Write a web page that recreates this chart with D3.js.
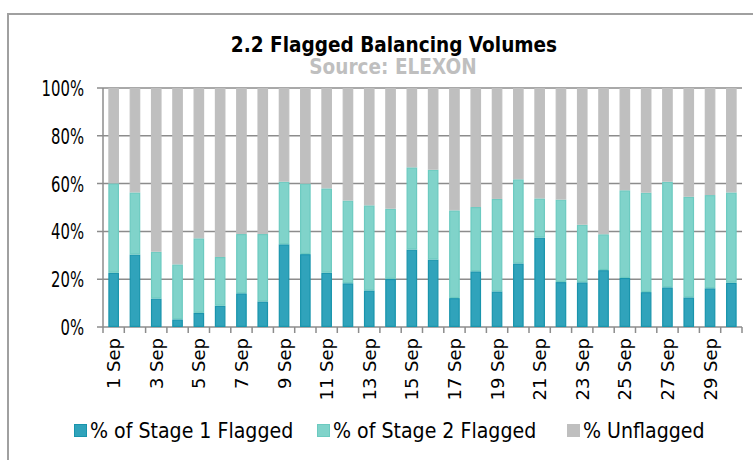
<!DOCTYPE html>
<html>
<head>
<meta charset="utf-8">
<script src="https://cdn.jsdelivr.net/npm/d3@7"></script>
<style>
  body { margin: 0; background: #fff; }
  svg { display: block; font-family: "DejaVu Sans", Verdana, sans-serif; }
</style>
</head>
<body>
<script>
const days = d3.range(1, 31).map(d => d + ' Sep');

// % of Stage 1 Flagged
const stage1 = [22.7, 30.3, 11.9, 3.2, 5.9, 8.9, 14.1, 10.7, 34.6, 30.5,
  22.7, 18.3, 15.3, 20.1, 32.4, 28.2, 12.1, 23.3, 14.9, 26.6,
  37.4, 18.8, 18.7, 23.8, 20.5, 14.6, 16.6, 12.4, 16.2, 18.5];

// % of Stage 2 Flagged
const stage2 = [37.4, 26.0, 19.6, 23.0, 31.2, 20.4, 24.8, 28.2, 26.2, 29.5,
  35.3, 34.6, 35.6, 29.4, 34.4, 37.6, 36.7, 26.9, 38.7, 35.2,
  16.4, 34.5, 24.1, 15.0, 36.7, 41.6, 44.2, 42.1, 39.0, 37.8];

// % Unflagged
const unflagged = stage1.map((d, i) => +(100 - d - stage2[i]).toFixed(1));

const yTicks = [0, 20, 40, 60, 80, 100];

const seriesNames = ['% of Stage 1 Flagged', '% of Stage 2 Flagged', '% Unflagged'];
const fills = ['#30a3bb', '#80d3ca', '#bfbfbf'];
const strokes = ['#1994ac', '#6ccac0', '#bfbfbf'];

const width = 753, height = 460;
const svg = d3.select('body').append('svg')
  .attr('width', width)
  .attr('height', height);

// outer frame
svg.append('rect')
  .attr('x', 8).attr('y', 14)
  .attr('width', 800).attr('height', 500)
  .attr('fill', 'none')
  .attr('stroke', '#a0a0a0')
  .attr('stroke-width', 2);

svg.append('text')
  .attr('transform', 'translate(394,52) scale(1,1.18)')
  .attr('text-anchor', 'middle')
  .attr('font-weight', 'bold')
  .attr('font-size', 18.5)
  .attr('fill', '#000')
  .text('2.2 Flagged Balancing Volumes');

svg.append('text')
  .attr('transform', 'translate(393,74) scale(1,1.12)')
  .attr('text-anchor', 'middle')
  .attr('font-weight', 'bold')
  .attr('font-size', 18.5)
  .attr('fill', '#bfbfbf')
  .text('Source: ELEXON');

const x = d3.scaleBand()
  .domain(days)
  .range([103, 742])
  .paddingInner(0.5)
  .paddingOuter(0.25);

const y = d3.scaleLinear()
  .domain([0, 100])
  .range([327, 88]);

// gridlines
svg.append('g')
  .selectAll('line')
  .data(yTicks)
  .join('line')
  .attr('x1', 97).attr('x2', 742)
  .attr('y1', d => y(d)).attr('y2', d => y(d))
  .attr('stroke', '#8c8c8c')
  .attr('stroke-width', 1.5);

// y labels
svg.append('g')
  .selectAll('text')
  .data(yTicks)
  .join('text')
  .attr('transform', d => `translate(84,${y(d) + 8}) scale(1,1.3)`)
  .attr('text-anchor', 'end')
  .attr('font-family', '"DejaVu Sans Condensed", "DejaVu Sans", sans-serif')
  .attr('font-size', 16.5)
  .attr('fill', '#000')
  .text(d => d + '%');

// y axis line
svg.append('line')
  .attr('x1', 103).attr('x2', 103)
  .attr('y1', y(100)).attr('y2', y(0))
  .attr('stroke', '#8c8c8c')
  .attr('stroke-width', 1.5);

// stacked bars
const rows = days.map((d, i) => ({ day: d, s1: stage1[i], s2: stage2[i], un: unflagged[i] }));
const stack = d3.stack().keys(['s1', 's2', 'un'])(rows);

svg.append('g')
  .selectAll('g')
  .data(stack)
  .join('g')
  .attr('fill', (d, i) => fills[i])
  .attr('stroke', (d, i) => strokes[i])
  .attr('stroke-width', 1.2)
  .selectAll('rect')
  .data(d => d)
  .join('rect')
  .attr('x', d => x(d.data.day) + 0.6)
  .attr('width', x.bandwidth() - 1.2)
  .attr('y', d => y(d[1]) + 0.6)
  .attr('height', d => Math.max(0, y(d[0]) - y(d[1]) - 1.2));

// x axis ticks at band edges
const step = x.step();
const edges = d3.range(0, days.length + 1).map(i => 103 + i * step);
svg.append('g')
  .selectAll('line')
  .data(edges)
  .join('line')
  .attr('x1', d => d).attr('x2', d => d)
  .attr('y1', y(0)).attr('y2', y(0) + 6)
  .attr('stroke', '#8c8c8c')
  .attr('stroke-width', 1.5);

// x labels every other day
svg.append('g')
  .selectAll('text')
  .data(days.filter((d, i) => i % 2 === 0))
  .join('text')
  .attr('transform', d => `translate(${x(d) + x.bandwidth() / 2 + 6.5},338) rotate(-90)`)
  .attr('text-anchor', 'end')
  .attr('font-size', 18)
  .attr('fill', '#000')
  .text(d => d);

// legend
const legendX = [74, 317, 567];
const legend = svg.append('g')
  .selectAll('g')
  .data(seriesNames)
  .join('g')
  .attr('transform', (d, i) => `translate(${legendX[i]},424)`);

legend.append('rect')
  .attr('x', 0.5).attr('y', 0.5)
  .attr('width', 12).attr('height', 12)
  .attr('fill', (d, i) => fills[i])
  .attr('stroke', (d, i) => strokes[i]);

legend.append('text')
  .attr('transform', 'translate(16,14) scale(1,1.1)')
  .attr('font-size', 19)
  .attr('fill', '#000')
  .text(d => d);
</script>
</body>
</html>
